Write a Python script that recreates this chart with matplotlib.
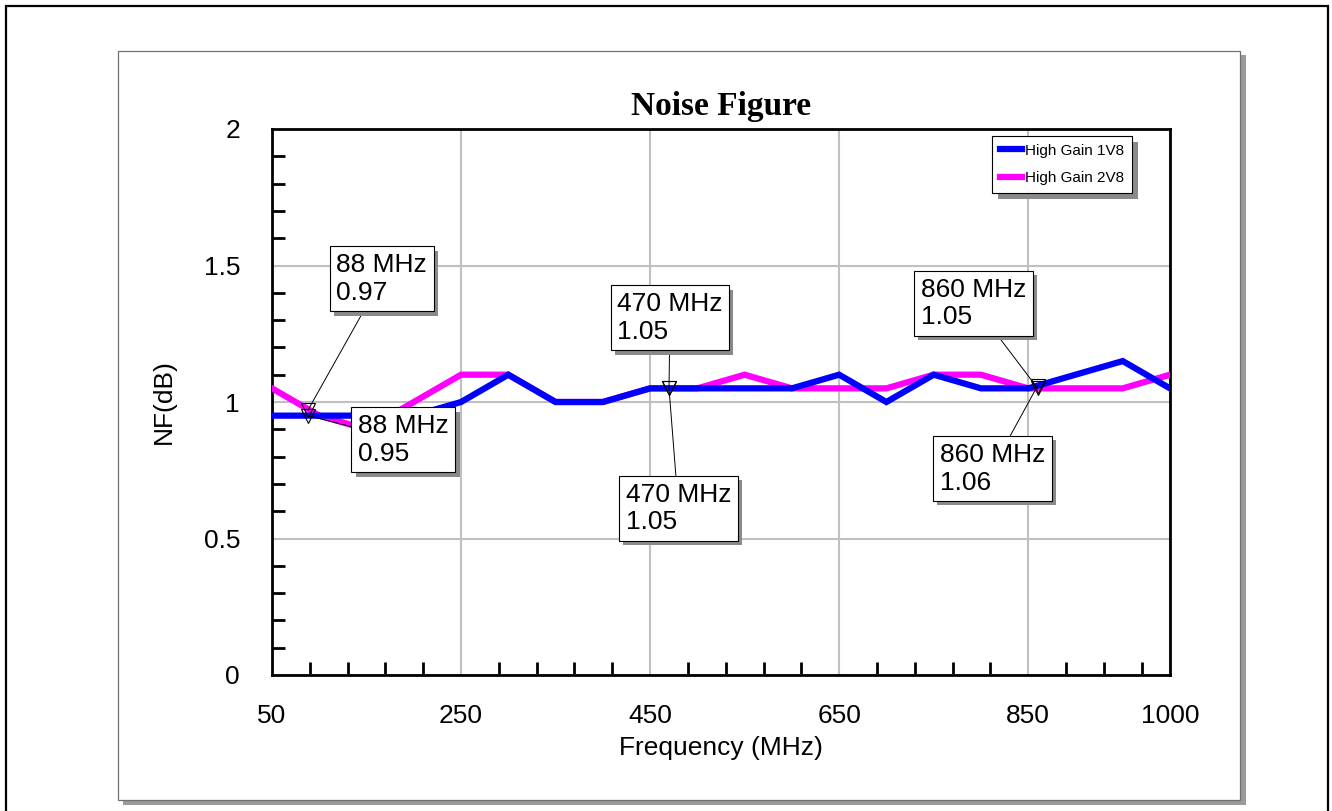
import matplotlib
matplotlib.use("Agg")
import matplotlib.pyplot as plt
import matplotlib.patheffects as pe
import numpy as np
from matplotlib.patches import Rectangle

plt.rcParams['font.family'] = ['Liberation Sans', 'DejaVu Sans']

# measured noise figure, dB
freq_mhz = [50, 100, 150, 200, 250, 300, 350, 400, 450, 500,
            550, 600, 650, 700, 750, 800, 850, 900, 950, 1000]
nf_1v8 = [0.95, 0.95, 0.95, 0.95, 1.00, 1.10, 1.00, 1.00, 1.05, 1.05,
          1.05, 1.05, 1.10, 1.00, 1.10, 1.05, 1.05, 1.10, 1.15, 1.05]
nf_2v8 = [1.05, 0.95, 0.90, 1.00, 1.10, 1.10, 1.00, 1.00, 1.05, 1.05,
          1.10, 1.05, 1.05, 1.05, 1.10, 1.10, 1.05, 1.05, 1.05, 1.10]
series_names = ['High Gain 1V8', 'High Gain 2V8']

marker_freqs = [88, 470, 860]

x_ticks = [50, 250, 450, 650, 850, 1000]
x_ticklabels = ['50', '250', '450', '650', '850', '1000']
y_ticks = [0, 0.5, 1, 1.5, 2]
y_ticklabels = ['0', '0.5', '1', '1.5', '2']

W, H = 1332, 811


def px_rect(x0, y0, x1, y1):
    return (x0 / W, 1 - y1 / H), (x1 - x0) / W, (y1 - y0) / H


fig = plt.figure(figsize=(W / 100, H / 100), dpi=100)

# page frame and the chart panel with its drop shadow
xy, w, h = px_rect(6, 6, 1328, 830)
fig.add_artist(Rectangle(xy, w, h, transform=fig.transFigure, fill=False,
                         ec='black', lw=1.6, zorder=-5))
xy, w, h = px_rect(123, 55, 1246, 805)
fig.add_artist(Rectangle(xy, w, h, transform=fig.transFigure, fc='#9a9a9a',
                         ec='none', zorder=-4))
xy, w, h = px_rect(118, 51, 1240, 800)
fig.add_artist(Rectangle(xy, w, h, transform=fig.transFigure, fc='white',
                         ec='#707070', lw=0.9, zorder=-3))

ax = fig.add_axes([272 / W, 1 - 675 / H, 898 / W, 546 / H])

l2, = ax.plot(freq_mhz, nf_2v8, color='#ff00ff', lw=4.5, zorder=3,
              solid_joinstyle='miter', label=series_names[1])
l1, = ax.plot(freq_mhz, nf_1v8, color='#0000ff', lw=4.5, zorder=4,
              solid_joinstyle='miter', label=series_names[0])

ax.set_xlim(50, 1000)
ax.set_ylim(0, 2)
ax.set_xticks(x_ticks)
ax.set_xticklabels(x_ticklabels)
ax.set_yticks(y_ticks)
ax.set_yticklabels(y_ticklabels)
ax.set_xticks(np.arange(50, 1001, 40), minor=True)
ax.set_yticks(np.arange(0, 2.01, 0.1), minor=True)
ax.grid(True, which='major', color='#c0c0c0', lw=1.5)
ax.set_axisbelow(True)

ax.tick_params(which='major', length=0, labelsize=19)
ax.tick_params(axis='y', which='major', pad=23)
ax.tick_params(axis='x', which='major', pad=21)
ax.tick_params(which='minor', direction='in', length=9.5, width=2,
               color='black')
for s in ax.spines.values():
    s.set_linewidth(2)
    s.set_color('black')

ax.set_title('Noise Figure', fontsize=24, fontweight='bold',
             fontfamily='Liberation Serif', pad=10)
ax.set_xlabel('Frequency (MHz)', fontsize=19)
ax.set_ylabel('NF(dB)', fontsize=19)
ax.xaxis.set_label_coords(0.5, -0.112)
ax.yaxis.set_label_coords(-0.107, 0.5)

leg = ax.legend(handles=[l1, l2], loc='upper right',
                bbox_to_anchor=(0.9577, 0.987), borderaxespad=0, fontsize=11,
                fancybox=False, edgecolor='black', framealpha=1,
                handlelength=1.45, handletextpad=0.2, labelspacing=0.9,
                borderpad=0.5)
leg.get_frame().set_linewidth(0.8)
leg.get_frame().set_path_effects([
    pe.withSimplePatchShadow(offset=(4, -4), shadow_rgbFace='#8a8a8a', alpha=1.0)])
leg.set_zorder(10)

# marker readouts: (frequency, series, box centre in data units)
readouts = [
    (88, nf_2v8, 166, 1.451),
    (88, nf_1v8, 189, 0.861),
    (470, nf_2v8, 471, 1.308),
    (470, nf_1v8, 480, 0.610),
    (860, nf_2v8, 792, 1.361),
    (860, nf_1v8, 812, 0.756),
]
for f, series, tx, ty in readouts:
    v = round(float(np.interp(f, freq_mhz, series)), 2)
    ax.plot(f, v, marker='v', ms=10, mfc='none', mec='black', mew=0.8,
            zorder=5)
    ann = ax.annotate(f"{f} MHz\n{v:.2f}", xy=(f, v), xytext=(tx, ty),
                      textcoords='data', ha='center', va='center',
                      multialignment='left', fontsize=19, zorder=6,
                      bbox=dict(boxstyle='square,pad=0.25', fc='white',
                                ec='black', lw=0.8),
                      arrowprops=dict(arrowstyle='-', color='black', lw=0.7,
                                      shrinkA=0, shrinkB=0))
    ann.get_bbox_patch().set_path_effects([
        pe.withSimplePatchShadow(offset=(3, -3), shadow_rgbFace='#8a8a8a',
                                 alpha=1.0)])

fig.savefig('out.png', dpi=100)
